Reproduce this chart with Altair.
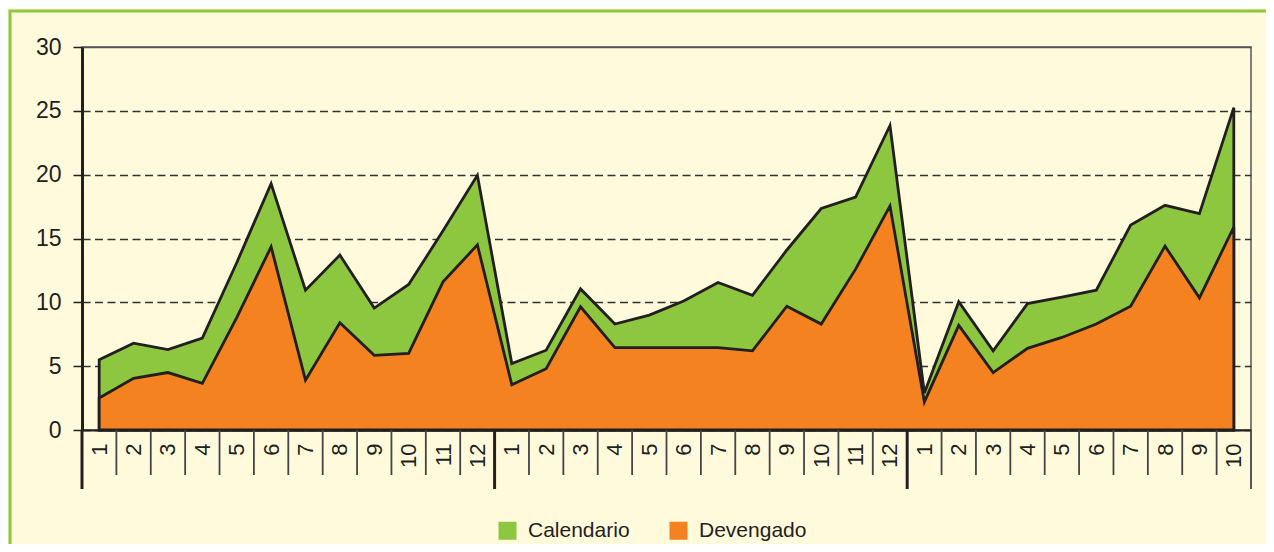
import json
import altair as alt
import pandas as pd

# ---- data ----
group_sizes = [12, 12, 10]
month_labels = [str(m) for n in group_sizes for m in range(1, n + 1)]

calendario = [5.5, 6.8, 6.3, 7.2, 13.1, 19.3, 10.95, 13.7, 9.55, 11.4, 15.6, 19.95,
              5.2, 6.25, 11.05, 8.3, 9.0, 10.1, 11.55, 10.55, 14.1, 17.35, 18.25, 23.85,
              2.9, 10.05, 6.2, 9.9, 10.4, 10.95, 16.05, 17.6, 16.95, 25.25]
devengado = [2.5, 4.05, 4.5, 3.65, 8.8, 14.35, 3.9, 8.4, 5.85, 6.0, 11.6, 14.5,
             3.55, 4.8, 9.65, 6.45, 6.45, 6.45, 6.45, 6.2, 9.7, 8.3, 12.6, 17.55,
             2.2, 8.2, 4.5, 6.4, 7.25, 8.3, 9.7, 14.4, 10.35, 15.9]
series_names = ["Calendario", "Devengado"]
series_colors = ["#8DC63F", "#F58220"]
y_ticks = [0, 5, 10, 15, 20, 25, 30]

n = len(month_labels)
idx = list(range(n))
df = pd.DataFrame({
    "idx": idx * 2,
    "serie": [series_names[0]] * n + [series_names[1]] * n,
    "valor": calendario + devengado,
})

# category boundaries (between months) and group boundaries (between years)
group_edges = [-0.5]
acc = -0.5
for g in group_sizes:
    acc += g
    group_edges.append(acc)
minor_edges = [i + 0.5 for i in range(n - 1) if (i + 0.5) not in group_edges]
major_edges = group_edges[:-1]
end_edges = group_edges[-1:]

W, H = 1169, 383
INK = "#231F20"
CREAM = "#FFFADC"

xscale = alt.Scale(domain=[-0.5, n - 0.5], nice=False, zero=False)
yscale = alt.Scale(domain=[0, 30], nice=False)
color = alt.Color("serie:N", scale=alt.Scale(domain=series_names, range=series_colors),
                  legend=alt.Legend(title=None, orient="none", direction="horizontal",
                                    legendX=415, legendY=473, padding=0,
                                    symbolType="square", symbolSize=324,
                                    symbolStrokeWidth=0, labelFontSize=21,
                                    labelColor=INK, labelOffset=10,
                                    columnPadding=38, labelFont="Liberation Sans"))

label_expr = json.dumps(month_labels) + "[datum.value]"

frame = alt.Chart(pd.DataFrame({"a": [0]})).mark_rect(
    fillOpacity=0, stroke="#8DC63F", strokeWidth=3
).encode(x=alt.value(-72), x2=alt.value(W + 200), y=alt.value(-36), y2=alt.value(H + 300))

x_axis = alt.Axis(values=idx, labelExpr=label_expr, title=None, ticks=False,
                  labelAngle=270, labelAlign="right", labelBaseline="middle",
                  labelFontSize=22, labelColor=INK, labelPadding=13,
                  labelOverlap=False, labelFlush=False, labelBound=False, grid=False,
                  domainColor=INK, domainWidth=2, labelFont="Liberation Sans")
y_axis = alt.Axis(values=y_ticks, title=None, tickSize=9, tickColor=INK,
                  tickWidth=1.5, labelFontSize=23, labelColor=INK,
                  labelPadding=12, domainColor=INK, domainWidth=3,
                  grid=True,
                  gridColor={"condition": {"test": "datum.value >= 30", "value": "#555555"},
                             "value": "#333333"},
                  gridDash={"condition": {"test": "datum.value >= 30", "value": [1, 0]},
                            "value": [8, 4.5]},
                  gridWidth=1.3, labelFont="Liberation Sans")

base = alt.Chart(df)
area_cal = base.transform_filter(alt.datum.serie == series_names[0]).mark_area(
    stroke=INK, strokeWidth=2.8, strokeJoin="miter"
).encode(
    x=alt.X("idx:Q", scale=xscale, axis=x_axis),
    y=alt.Y("valor:Q", scale=yscale, stack=None, axis=y_axis),
    color=color,
)
area_dev = base.transform_filter(alt.datum.serie == series_names[1]).mark_area(
    stroke=INK, strokeWidth=2.8, strokeJoin="miter"
).encode(
    x=alt.X("idx:Q", scale=xscale, axis=x_axis),
    y=alt.Y("valor:Q", scale=yscale, stack=None, axis=y_axis),
    color=color,
)

minor = alt.Chart(pd.DataFrame({"idx": minor_edges})).mark_rule(
    color="#444444", strokeWidth=1.8
).encode(x=alt.X("idx:Q", scale=xscale, axis=x_axis), y=alt.value(H), y2=alt.value(H + 45))
major = alt.Chart(pd.DataFrame({"idx": major_edges})).mark_rule(
    color=INK, strokeWidth=3
).encode(x=alt.X("idx:Q", scale=xscale, axis=x_axis), y=alt.value(H), y2=alt.value(H + 59))
endr = alt.Chart(pd.DataFrame({"idx": end_edges})).mark_rule(
    color="#444444", strokeWidth=1.8
).encode(x=alt.X("idx:Q", scale=xscale, axis=x_axis), y=alt.value(H), y2=alt.value(H + 59))

chart = alt.layer(frame, area_cal, area_dev, minor, major, endr).properties(
    width=W, height=H,
    autosize=alt.AutoSizeParams(type="none"),
    padding={"left": 74, "top": 39, "right": 15, "bottom": 114},
).configure(
    background=CREAM, font="Liberation Sans"
).configure_axis(
    labelOverlap=False
).configure_view(
    stroke="#555555", strokeWidth=1.5
)

chart.save("out.html", embed_options={"renderer": "svg", "actions": False})
